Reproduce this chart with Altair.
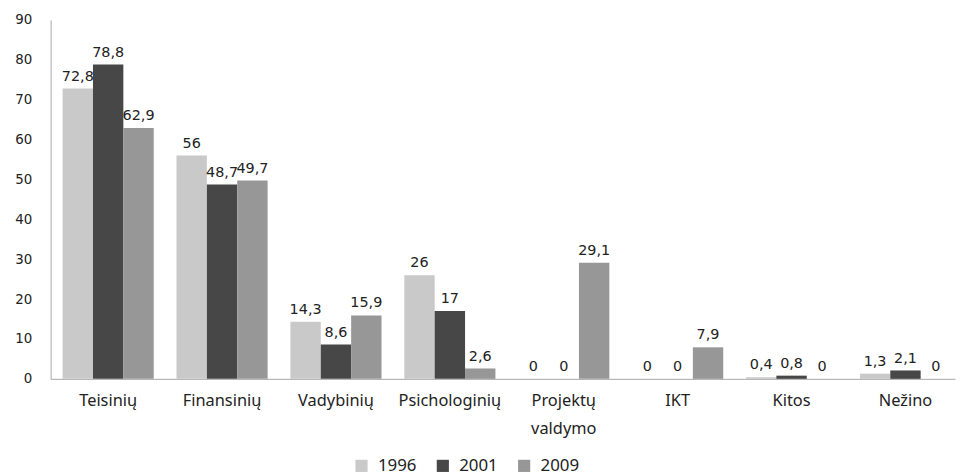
import altair as alt
import pandas as pd

categories = ["Teisinių", "Finansinių", "Vadybinių", "Psichologinių",
              "Projektų valdymo", "IKT", "Kitos", "Nežino"]
years = ["1996", "2001", "2009"]
v1996 = [72.8, 56, 14.3, 26, 0, 0, 0.4, 1.3]
v2001 = [78.8, 48.7, 8.6, 17, 0, 0, 0.8, 2.1]
v2009 = [62.9, 49.7, 15.9, 2.6, 29.1, 7.9, 0, 0]
colors = ["#c9c9c9", "#474747", "#979797"]

rows = []
for yr, vals in zip(years, [v1996, v2001, v2009]):
    for c, v in zip(categories, vals):
        rows.append({"cat": c, "year": yr, "value": v,
                     "label": f"{v:g}".replace(".", ",")})
df = pd.DataFrame(rows)

xenc = alt.X("cat:N", sort=categories, title=None,
             scale=alt.Scale(paddingInner=0.2, paddingOuter=0.07, align=0.75),
             axis=alt.Axis(labelAngle=0, ticks=False, domainColor="#a6a6a6",
                           labelFont="Noto Sans", labelFontSize=16.5,
                           labelColor="#222222", labelPadding=14,
                           labelLineHeight=28,
                           labelExpr="split(datum.label, ' ')"))
xoff = alt.XOffset("year:N", sort=years,
                   scale=alt.Scale(paddingInner=0, paddingOuter=0))
yenc = alt.Y("value:Q", title=None,
             scale=alt.Scale(domain=[0, 90], nice=False),
             axis=alt.Axis(values=list(range(0, 91, 10)), grid=False, ticks=False,
                           domainColor="#a6a6a6", labelFont="DejaVu Sans",
                           labelFontSize=13.5, labelColor="#222222", labelPadding=19))

bars = alt.Chart(df).mark_bar().encode(
    x=xenc, xOffset=xoff, y=yenc,
    color=alt.Color("year:N", sort=years,
                    scale=alt.Scale(domain=years, range=colors),
                    legend=alt.Legend(title=None, orient="none", direction="horizontal",
                                      legendX=305, legendY=441,
                                      symbolType="square", symbolSize=150,
                                      symbolStrokeWidth=0, labelFont="Noto Sans",
                                      labelFontSize=17, labelColor="#222222",
                                      columnPadding=18, labelOffset=8)),
)

texts = alt.Chart(df).mark_text(baseline="bottom", dy=-5, font="DejaVu Sans",
                                fontSize=14.5, color="#222222").encode(
    x=alt.X("cat:N", sort=categories), xOffset=alt.XOffset("year:N", sort=years),
    y="value:Q", text="label:N")

chart = alt.layer(bars, texts).properties(
    width=912, height=362,
    autosize=alt.AutoSizeParams(type="none"),
    padding={"left": 43, "top": 10, "right": 2, "bottom": 96},
).configure_view(stroke=None)

chart.save("out.html", embed_options={"renderer": "svg", "actions": False})
